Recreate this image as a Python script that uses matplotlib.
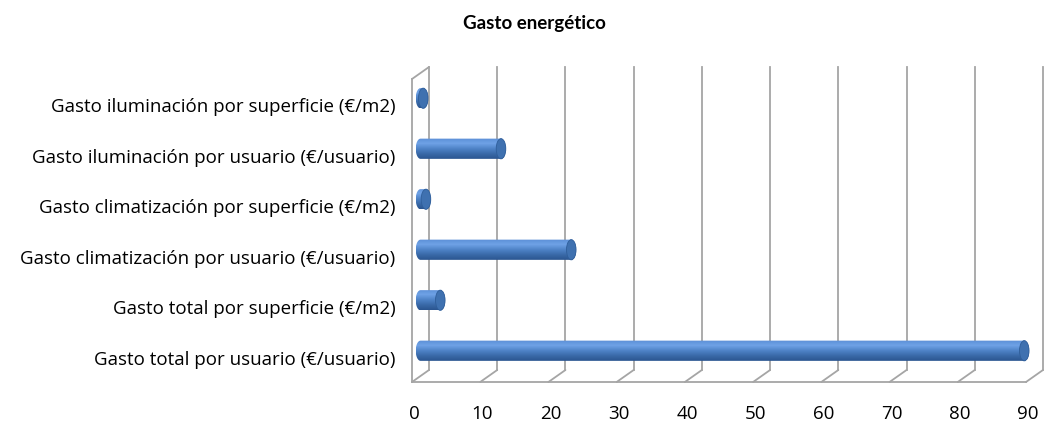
import matplotlib
matplotlib.use("Agg")
import matplotlib.pyplot as plt
import matplotlib.transforms as mtransforms
from matplotlib.patches import ConnectionPatch, Ellipse, PathPatch
from matplotlib.path import Path
from matplotlib.colors import LinearSegmentedColormap
import numpy as np

# categories, bottom to top
categorias = [
    "Gasto total por usuario (€/usuario)",
    "Gasto total por superficie (€/m2)",
    "Gasto climatización por usuario (€/usuario)",
    "Gasto climatización por superficie (€/m2)",
    "Gasto iluminación por usuario (€/usuario)",
    "Gasto iluminación por superficie (€/m2)",
]
valores = [88.5, 2.9, 22.1, 0.8, 11.8, 0.4]
ticks_x = [0, 10, 20, 30, 40, 50, 60, 70, 80, 90]

plt.rcParams['font.family'] = ['Open Sans', 'DejaVu Sans']

fig = plt.figure(figsize=(10.45, 4.27), dpi=100)
ax = fig.add_axes([412 / 1045, 44 / 427, 614 / 1045, 303 / 427])
ax.set_xlim(0, 90)
ax.set_ylim(-0.5, 5.5)
for s in ax.spines.values():
    s.set_visible(False)
ax.patch.set_alpha(0)

# depth offsets: back wall and middle of the box
back = ax.transData + mtransforms.ScaledTranslation(0.17, 0.12, fig.dpi_scale_trans)
mid = ax.transData + mtransforms.ScaledTranslation(0.085, 0.06, fig.dpi_scale_trans)

gris = '#a5a5a5'
lw = 1.3
y0, y1 = -0.5, 5.5

# back gridlines and floor diagonals
for t in ticks_x:
    if t > 0:
        ax.plot([t, t], [y0, y1], color=gris, lw=lw, transform=back, zorder=1, clip_on=False)
    ax.add_artist(ConnectionPatch((t, y0), (t, y0), coordsA=ax.transData, coordsB=back,
                                  color=gris, lw=lw, zorder=1))
# left wall
ax.plot([0, 0], [y0, y1], color=gris, lw=lw, zorder=1, clip_on=False)
ax.plot([0, 0], [y0, y1], color=gris, lw=lw, transform=back, zorder=1, clip_on=False)
ax.add_artist(ConnectionPatch((0, y1), (0, y1), coordsA=ax.transData, coordsB=back,
                              color=gris, lw=lw, zorder=1))
# floor front edge
ax.plot([0, 90], [y0, y0], color=gris, lw=lw, zorder=1, clip_on=False)

# cylinders
h = 0.4
r = 0.7  # half width of the end ellipse in x units
grad = np.linspace(0, 1, 64).reshape(-1, 1)
cmap = LinearSegmentedColormap.from_list('cil', ['#5b8fd6', '#6fa2e6', '#4f83c8', '#3a6aa8', '#2a5590'])
ang = np.linspace(-np.pi / 2, np.pi / 2, 30)
for i, v in enumerate(valores):
    yc = i
    xs = np.concatenate([[0, v], v + r * np.cos(ang), [v, 0], 0 - r * np.cos(ang)])
    ys = np.concatenate([[yc - h / 2, yc - h / 2], yc + h / 2 * np.sin(ang),
                         [yc + h / 2, yc + h / 2], yc - h / 2 * np.sin(ang)])
    path = Path(np.column_stack([xs, ys]))
    patch = PathPatch(path, facecolor='none', edgecolor='none', transform=mid)
    ax.add_patch(patch)
    im = ax.imshow(grad, cmap=cmap, aspect='auto', origin='upper',
                   extent=[-r, v + r, yc - h / 2, yc + h / 2], zorder=3)
    im.set_transform(mid)
    im.set_clip_box(fig.bbox)
    im.set_clip_path(patch)
    tapa = Ellipse((v, yc), 2 * r, h, facecolor='#3f71b0', edgecolor='#2f5e9a',
                   lw=0.6, transform=mid, zorder=4, clip_on=False)
    ax.add_patch(tapa)

ax.set_xlim(0, 90)
ax.set_ylim(-0.5, 5.5)
ax.set_xticks(ticks_x)
ax.set_xticklabels([str(t) for t in ticks_x], fontsize=13.5)
ax.set_yticks(range(len(categorias)))
ax.set_yticklabels(categorias, fontsize=13.5)
ax.tick_params(length=0)
ax.tick_params(axis='y', pad=12)
ax.tick_params(axis='x', pad=16)
# tick labels sit a little deeper than the front edge
for lab in ax.get_xticklabels():
    lab.set_transform(lab.get_transform() + mtransforms.ScaledTranslation(0.02, 0, fig.dpi_scale_trans))

fig.text(534 / 1045, 1 - 23 / 427, "Gasto energético", ha='center', va='center',
         fontsize=13.5, fontweight='bold', family=['Lato', 'DejaVu Sans'])

fig.savefig('out.png', dpi=100)
